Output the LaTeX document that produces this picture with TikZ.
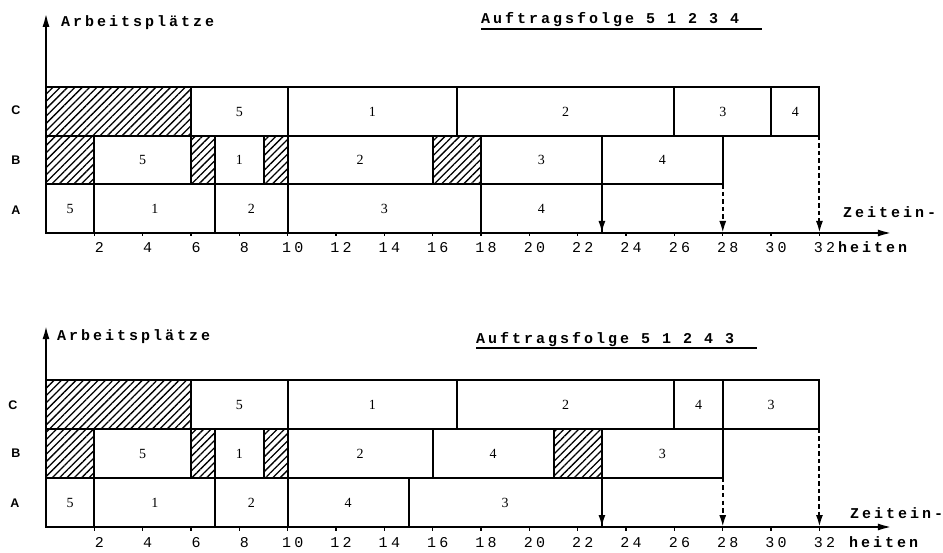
\documentclass[tikz,border=0pt]{standalone}
\usepackage{fontspec}
\setmainfont{Liberation Serif}
\newfontfamily\twfont[LetterSpace=20]{Liberation Mono}
\newfontfamily\tickfont[LetterSpace=22]{Liberation Mono}
\newfontfamily\rowfont{Liberation Sans}
\usetikzlibrary{arrows.meta,patterns.meta}
\tikzset{
  boxline/.style={line width=2pt},
  hatched/.style={boxline, pattern={Lines[angle=45,distance=5.2pt,line width=1.3pt]}},
  boxlbl/.style={font=\fontsize{14}{14}\selectfont, inner sep=0pt},
  axarrow/.style={line width=2.2pt, -{Latex[length=14pt,width=7pt]}},
  endarrow/.style={line width=2pt, -{Latex[length=12pt,width=7pt]}},
  dasharrow/.style={line width=2pt, dash pattern=on 4.5pt off 3pt, -{Latex[length=12pt,width=7pt]}},
  ticklbl/.style={font=\tickfont\fontsize{15}{15}\selectfont, anchor=base, inner sep=0pt},
  headtxt/.style={font=\twfont\bfseries\fontsize{15}{15}\selectfont, anchor=base west, inner sep=0pt},
  rowlbl/.style={font=\rowfont\bfseries\fontsize{12.5}{12.5}\selectfont, inner sep=0pt},
}
\newcommand\gbox[5]{\draw[boxline] (#1,#3) rectangle (#2,#3+1);
  \node[boxlbl] (#5) at ({(#1+#2)/2},#3+0.5) {#4};}
\newcommand\ghatch[3]{\draw[hatched] (#1,#3) rectangle (#2,#3+1);}
\begin{document}
\begin{tikzpicture}
\useasboundingbox (0pt,0pt) rectangle (943pt,552pt);

% ===== top chart =====
\begin{scope}[shift={(46pt,319pt)}, x=24.17pt, y=48.5pt]
  \coordinate (tO) at (0,0);
  \coordinate (tY) at (0,4.54);
  \coordinate (tX) at (35.0,0);
  % C row
  \ghatch{0}{6}{2}
  \gbox{6}{10}{2}{5}{tC5}
  \gbox{10}{17}{2}{1}{tC1}
  \gbox{17}{26}{2}{2}{tC2}
  \gbox{26}{30}{2}{3}{tC3}
  \gbox{30}{32}{2}{4}{tC4}
  % B row
  \ghatch{0}{2}{1}
  \gbox{2}{6}{1}{5}{tB5}
  \ghatch{6}{7}{1}
  \gbox{7}{9}{1}{1}{tB1}
  \ghatch{9}{10}{1}
  \gbox{10}{16}{1}{2}{tB2}
  \ghatch{16}{18}{1}
  \gbox{18}{23}{1}{3}{tB3}
  \gbox{23}{28}{1}{4}{tB4}
  % A row
  \gbox{0}{2}{0}{5}{tA5}
  \gbox{2}{7}{0}{1}{tA1}
  \gbox{7}{10}{0}{2}{tA2}
  \gbox{10}{18}{0}{3}{tA3}
  \gbox{18}{23}{0}{4}{tA4}
  % axes
  \draw[axarrow] (tO) -- (tY);
  \draw[axarrow] (tO) -- (tX);
  \foreach \i in {2,4,...,32} {
    \draw[line width=1.4pt] (\i,0) -- ++(0,-3.5pt);
    \node[ticklbl] (tt\i) at ([xshift=5pt,yshift=-20pt]\i,0) {\i};
  }
  % completion arrows
  \coordinate (tE23) at (23,0);
  \coordinate (tE28) at (28,0);
  \coordinate (tE32) at (32,0);
  \draw[endarrow] (23,2) -- (tE23);
  \draw[dasharrow] (28,1) -- (tE28);
  \draw[dasharrow] (32,2) -- (tE32);
\end{scope}
\node[rowlbl] (tLC) at (16pt,442pt) {C};
\node[rowlbl] (tLB) at (16pt,392pt) {B};
\node[rowlbl] (tLA) at (16pt,342pt) {A};
\node[headtxt] (tArb) at (61pt,525pt) {Arbeitsplätze};
\node[headtxt] (tAuf) at (481pt,528pt) {Auftragsfolge 5 1 2 3 4};
\draw[line width=1.2pt] (481pt,523pt) -- (762pt,523pt);
\node[headtxt] (tZe) at (843pt,334pt) {Zeitein-};
\node[headtxt] (tHe) at (838pt,299pt) {heiten};

% ===== bottom chart =====
\begin{scope}[shift={(46pt,25pt)}, x=24.17pt, y=49pt]
  \coordinate (bO) at (0,0);
  \coordinate (bY) at (0,4.12);
  \coordinate (bX) at (35.0,0);
  % C row
  \ghatch{0}{6}{2}
  \gbox{6}{10}{2}{5}{bC5}
  \gbox{10}{17}{2}{1}{bC1}
  \gbox{17}{26}{2}{2}{bC2}
  \gbox{26}{28}{2}{4}{bC4}
  \gbox{28}{32}{2}{3}{bC3}
  % B row
  \ghatch{0}{2}{1}
  \gbox{2}{6}{1}{5}{bB5}
  \ghatch{6}{7}{1}
  \gbox{7}{9}{1}{1}{bB1}
  \ghatch{9}{10}{1}
  \gbox{10}{16}{1}{2}{bB2}
  \gbox{16}{21}{1}{4}{bB4}
  \ghatch{21}{23}{1}
  \gbox{23}{28}{1}{3}{bB3}
  % A row
  \gbox{0}{2}{0}{5}{bA5}
  \gbox{2}{7}{0}{1}{bA1}
  \gbox{7}{10}{0}{2}{bA2}
  \gbox{10}{15}{0}{4}{bA4}
  \gbox{15}{23}{0}{3}{bA3}
  % axes
  \draw[axarrow] (bO) -- (bY);
  \draw[axarrow] (bO) -- (bX);
  \foreach \i in {2,4,...,32} {
    \draw[line width=1.4pt] (\i,0) -- ++(0,-3.5pt);
    \node[ticklbl] (bt\i) at ([xshift=5pt,yshift=-20pt]\i,0) {\i};
  }
  \coordinate (bE23) at (23,0);
  \coordinate (bE28) at (28,0);
  \coordinate (bE32) at (32,0);
  \draw[endarrow] (23,2) -- (bE23);
  \draw[dasharrow] (28,1) -- (bE28);
  \draw[dasharrow] (32,2) -- (bE32);
\end{scope}
\node[rowlbl] (bLC) at (13pt,147pt) {C};
\node[rowlbl] (bLB) at (16pt,99pt) {B};
\node[rowlbl] (bLA) at (15pt,49pt) {A};
\node[headtxt] (bArb) at (57pt,211pt) {Arbeitsplätze};
\node[headtxt] (bAuf) at (476pt,208pt) {Auftragsfolge 5 1 2 4 3};
\draw[line width=1.2pt] (476pt,204pt) -- (757pt,204pt);
\node[headtxt] (bZe) at (850pt,34pt) {Zeitein-};
\node[headtxt] (bHe) at (849pt,5pt) {heiten};
\end{tikzpicture}
\end{document}
